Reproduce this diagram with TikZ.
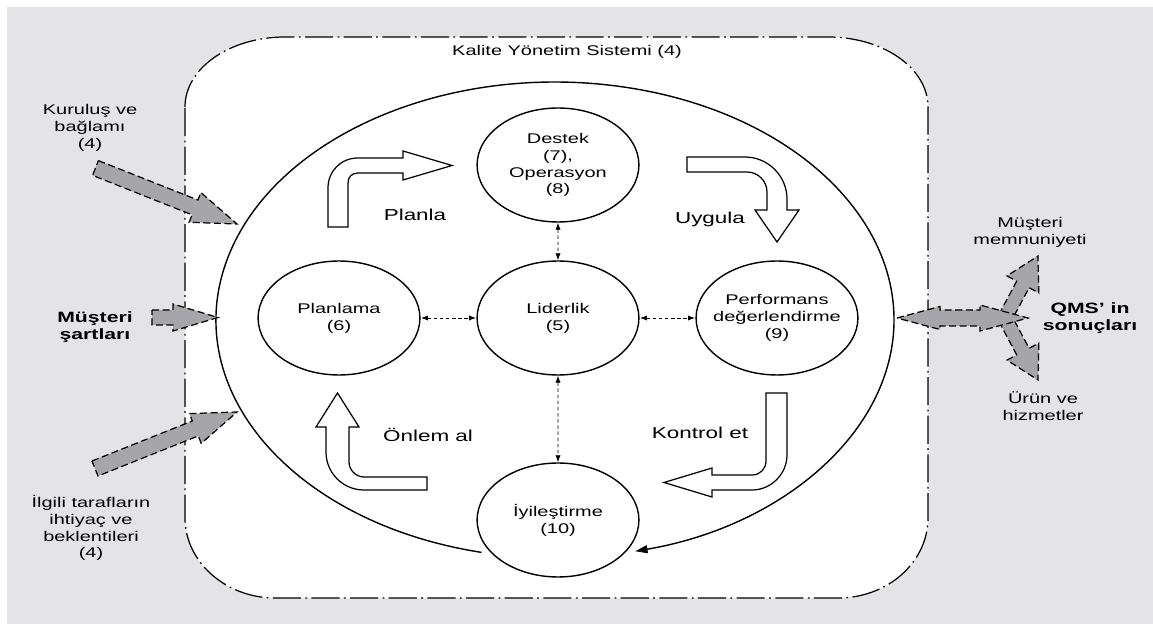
\documentclass[tikz,border=0pt]{standalone}
\usepackage{fontspec}
\setmainfont{Liberation Sans}
\usetikzlibrary{arrows.meta}
\definecolor{bggray}{RGB}{228,228,230}
\definecolor{arrowgray}{RGB}{166,166,170}

\begin{document}
\begin{tikzpicture}[x=0.02cm,y=-0.02cm,
    txt/.style={font=\fontsize{8}{9.6}\selectfont,align=center,inner sep=0pt,xscale=1.42},
    bold/.style={txt,font=\fontsize{8.5}{10}\selectfont\bfseries},
    phase/.style={txt,font=\fontsize{9}{10.8}\selectfont},
    stage/.style={txt,circle,draw,fill=white,line width=0.8pt,minimum size=2.28cm},
    link/.style={{Latex[length=4pt,width=3pt]}-{Latex[length=4pt,width=3pt]},dash pattern=on 2pt off 1.5pt,line width=0.5pt},
    flow/.style={draw,fill=white,line width=0.7pt},
    input/.style={draw,fill=arrowgray,line width=0.7pt,dash pattern=on 4pt off 2pt}]

    \useasboundingbox (0,0) rectangle (1153,624);
    \fill[white] (0,0) rectangle (1153,624);
    \fill[bggray] (7,7) rectangle (1153,624);

    \draw[fill=white,line width=0.7pt,dash pattern=on 16pt off 2.5pt on 1pt off 2.5pt]
      (185,107) .. controls (185,68) and (230,37) .. (285,37) -- (828,37)
      .. controls (883,37) and (928,68) .. (928,107) -- (928,518)
      .. controls (928,562) and (888,598) .. (838,598) -- (275,598)
      .. controls (226,598) and (185,562) .. (185,518) -- cycle;
    \node[txt] (title) at (567,52) {Kalite Yönetim Sistemi (4)};

    \draw[line width=0.8pt,-{Triangle[length=7pt,width=4.5pt]}] (481.6,552.4)
      arc[start angle=102.5,end angle=436.3,x radius=339,y radius=238];

    \draw[flow] (328,227) -- (328,188) .. controls (328,171) and (341,158) .. (358,158)
      -- (403,158) -- (403,151) -- (452,165.5) -- (403,180) -- (403,173) -- (358,173)
      .. controls (352,173) and (348,177) .. (348,183) -- (348,227) -- cycle;
    \draw[flow] (687,157) -- (745,157) .. controls (768,157) and (787,176) .. (787,199)
      -- (787,210) -- (799,210) -- (777,242) -- (755,210) -- (767,210) -- (767,192)
      .. controls (767,181) and (758,172) .. (747,172) -- (687,172) -- cycle;
    \draw[flow] (766,393) -- (787,393) -- (787,455) .. controls (787,474) and (771,490) .. (752,490)
      -- (712,490) -- (712,497) -- (664,482.5) -- (712,468) -- (712,475) -- (752,475)
      .. controls (760,475) and (766,469) .. (766,461) -- cycle;
    \draw[flow] (427,477) -- (427,490) -- (364,490) .. controls (343,490) and (326,473) .. (326,452)
      -- (326,427) -- (316,427) -- (337.5,393) -- (359,427) -- (349,427) -- (349,462)
      .. controls (349,470) and (356,477) .. (364,477) -- cycle;

    \node[phase] (planla) at (415,215) {Planla};
    \node[phase] (uygula) at (710,219) {Uygula};
    \node[phase] (kontrol) at (700,433) {Kontrol et};
    \node[phase] (onlem) at (428,435) {Önlem al};

    \node[stage] (destek) at (558,165) {Destek\\(7),\\Operasyon\\(8)};
    \node[stage] (liderlik) at (558,318) {Liderlik\\(5)};
    \node[stage] (planlama) at (339,318) {Planlama\\(6)};
    \node[stage] (performans) at (777,318) {Performans\\değerlendirme\\(9)};
    \node[stage] (iyilestirme) at (558,520) {İyileştirme\\(10)};

    \draw[link] (destek) -- (liderlik);
    \draw[link] (liderlik) -- (iyilestirme);
    \draw[link] (planlama) -- (liderlik);
    \draw[link] (liderlik) -- (performans);

    \draw[input] (98.4,160.6) -- (197.9,200) -- (200.9,192.5) -- (237,224)
      -- (189.1,222.3) -- (192.1,214.8) -- (92.6,175.4) -- cycle;
    \draw[input] (152,310) -- (173,310) -- (173,304) -- (218,317.5)
      -- (173,331) -- (173,325) -- (152,325) -- cycle;
    \draw[input] (92,461) -- (192.3,421) -- (189.4,413.6) -- (237,412)
      -- (201.2,443.4) -- (198.3,435.9) -- (98,476) -- cycle;

    \draw[input] (998.8,314.7) -- (1016.7,281.1) -- (1007,275.9) -- (1038,256)
      -- (1038.8,292.9) -- (1029.1,287.7) -- (1011.2,321.3) -- cycle;
    \draw[input] (998.8,321.3) -- (1016.7,354.9) -- (1007,360.1) -- (1038,380)
      -- (1038.8,343.1) -- (1029.1,348.3) -- (1011.2,314.7) -- cycle;
    \draw[input] (897,318) -- (940,306.5) -- (940,310) -- (980,310) -- (980,305) -- (1028,318)
      -- (980,331) -- (980,326) -- (940,326) -- (940,329.5) -- cycle;

    \node[txt] (kurulus) at (90,128) {Kuruluş ve\\bağlamı\\(4)};
    \node[bold] (musteri) at (95,327) {Müşteri\\şartları};
    \node[txt] (ilgili) at (91,528) {İlgili tarafların\\ihtiyaç ve\\beklentileri\\(4)};
    \node[txt] (memnun) at (1030,232) {Müşteri\\memnuniyeti};
    \node[bold] (qms) at (1090,318) {QMS' in\\sonuçları};
    \node[txt] (urun) at (1043,406) {Ürün ve\\hizmetler};
\end{tikzpicture}
\end{document}
